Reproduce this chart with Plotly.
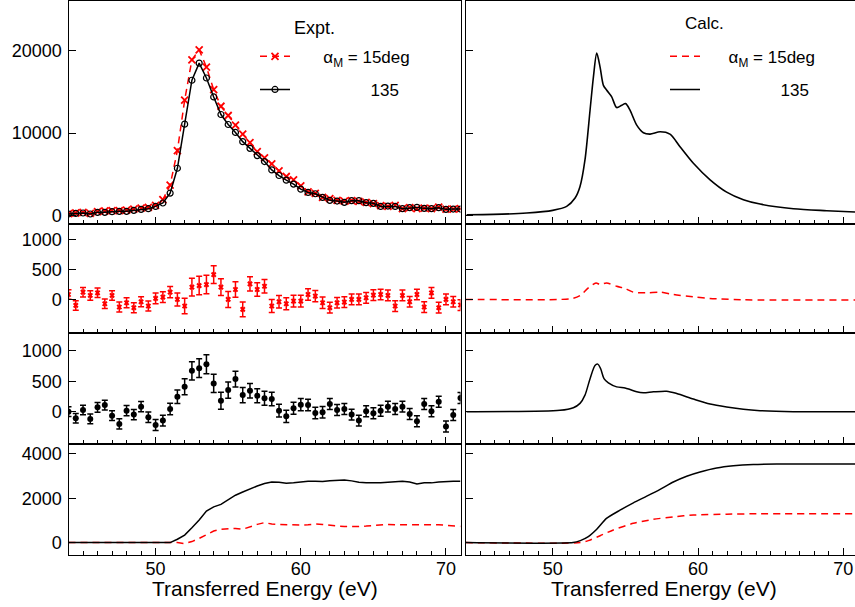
import plotly.graph_objects as go

# ---------------- data ----------------
energy = [44.0, 44.5, 45.0, 45.5, 46.0, 46.5, 47.0, 47.5, 48.0, 48.5, 49.0, 49.5,
          50.0, 50.5, 51.0, 51.5, 52.0, 52.5, 53.0, 53.5, 54.0, 54.5, 55.0, 55.5,
          56.0, 56.5, 57.0, 57.5, 58.0, 58.5, 59.0, 59.5, 60.0, 60.5, 61.0, 61.5,
          62.0, 62.5, 63.0, 63.5, 64.0, 64.5, 65.0, 65.5, 66.0, 66.5, 67.0, 67.5,
          68.0, 68.5, 69.0, 69.5, 70.0, 70.5, 71.0]

expt_15 = [240, 320, 400, 280, 480, 560, 600, 600, 680, 800, 920, 1000,
           1250, 1930, 3690, 7870, 13980, 18880, 20080, 17990, 15260, 13250, 12130, 10960,
           9880, 8840, 7750, 6990, 6270, 5420, 4740, 4340, 3610, 2890, 2690, 2210,
           2050, 1850, 1770, 1810, 1730, 1610, 1450, 1200, 1120, 1250, 840, 960,
           840, 920, 840, 1040, 800, 800, 840]

expt_135 = [200, 280, 320, 200, 400, 400, 480, 520, 520, 640, 760, 840,
            1120, 1530, 2730, 5740, 11080, 16400, 18470, 16670, 14380, 12250, 11040, 10080,
            8960, 8150, 7270, 6550, 5540, 4860, 4300, 3820, 3210, 2810, 2650, 2210,
            1850, 1770, 1610, 1810, 1810, 1570, 1490, 1120, 1160, 1120, 840, 960,
            1000, 880, 840, 960, 760, 800, 800]

diff_15 = [83, -100, 122, 67, 111, -72, 67, -128, -56, -139, -39, -111,
           17, 39, 122, 0, -111, 206, 233, 250, 417, 206, 0, 167,
           -167, 261, 167, 222, -111, -39, -72, -28, -28, 83, 56, -56,
           -139, -56, -44, 0, 0, 28, 72, 83, 67, -111, 67, -39,
           83, -128, 111, -139, 0, -39, -94]

err_15 = [80, 80, 80, 80, 80, 80, 80, 85, 85, 85, 85, 85,
          90, 90, 95, 110, 130, 150, 155, 155, 150, 140, 135, 130,
          125, 120, 115, 115, 110, 105, 100, 100, 100, 95, 95, 95,
          90, 90, 90, 90, 90, 90, 90, 90, 90, 90, 90, 90,
          90, 90, 90, 90, 90, 90, 90]

diff_135 = [0, -109, 27, -120, 71, 109, -66, -202, 16, -49, 82, -93,
            -219, -148, 44, 246, 410, 672, 716, 781, 464, 180, 355, 536,
            273, 344, 262, 219, 208, 16, -77, 55, 115, 109, -22, -11,
            126, 27, 44, -49, -148, 5, -27, 16, 82, 44, 82, -38,
            -158, 126, 5, 164, -246, -55, 224]

err_135 = [80, 80, 80, 80, 80, 80, 80, 85, 85, 85, 85, 85,
           90, 90, 95, 110, 130, 150, 155, 155, 150, 140, 135, 130,
           125, 120, 115, 115, 110, 105, 100, 100, 100, 95, 95, 95,
           90, 90, 90, 90, 90, 90, 90, 90, 90, 90, 90, 90,
           90, 90, 90, 90, 90, 90, 90]

cum_135 = [0, 0, 0, 0, 0, 0, 0, 0, 0, 0, 0, 0,
           0, 0, 0, 150, 340, 670, 1015, 1420, 1610, 1720, 1910, 2135,
           2280, 2430, 2550, 2660, 2730, 2720, 2670, 2690, 2730, 2760, 2760, 2750,
           2790, 2810, 2820, 2780, 2720, 2700, 2690, 2690, 2720, 2730, 2760, 2730,
           2640, 2690, 2690, 2730, 2760, 2760, 2760]

cum_15 = [0, 0, 0, 0, 0, 0, 0, 0, 0, 0, 0, 0,
          0, 0, 0, 0, -45, 45, 190, 370, 520, 600, 610, 640,
          600, 715, 820, 900, 835, 820, 805, 790, 790, 805, 835, 820,
          775, 745, 730, 715, 730, 745, 775, 805, 820, 805, 805, 805,
          820, 820, 835, 805, 775, 760, 730]

calc_x = [44.08, 45.92, 48.21, 50.0, 50.96, 51.54, 51.88, 52.22, 52.57, 52.8,
          53.03, 53.26, 53.49, 53.72, 54.06, 54.40, 54.75, 55.02, 55.32, 55.78,
          56.24, 56.70, 57.39, 58.07, 58.76, 59.68, 60.83, 61.97, 63.12, 64.27,
          66.56, 68.85, 70.80]
calc_135 = [100, 150, 320, 640, 1120, 2130, 3530, 6750, 12770, 16790,
            19680, 17990, 15780, 15180, 14380, 13090, 13370, 13570, 12770, 10960,
            10040, 9880, 10160, 9880, 8350, 6345, 4340, 2850, 1930, 1400,
            840, 600, 440]

calc_diff15_x = [44.0, 50.5, 51.4, 51.9, 52.45, 52.98, 53.26, 53.7, 54.4, 55.0,
                 55.55, 56.47, 57.4, 58.3, 59.68, 60.8, 63.1, 70.8]
calc_diff15 = [0, 0, 17, 67, 194, 278, 250, 278, 222, 183,
               122, 111, 122, 83, 44, 17, -5, -11]

calc_diff135_x = [44.08, 50.5, 51.42, 51.88, 52.22, 52.57, 52.91, 53.1, 53.3, 53.53,
                  53.83, 54.4, 54.98, 55.32, 55.78, 56.24, 56.93, 57.84, 58.53, 59.68,
                  60.83, 61.97, 63.12, 64.27, 66.56, 70.8]
calc_diff135 = [0, 22, 65, 136, 272, 543, 761, 783, 707, 543,
                473, 408, 391, 364, 326, 310, 326, 337, 299, 207,
                125, 76, 38, 16, 0, 0]

calc_cum135_x = [44.0, 51.4, 51.9, 52.45, 53.03, 53.7, 54.63, 55.55, 56.47, 57.39,
                 58.3, 59.22, 60.14, 61.28, 62.43, 63.8, 65.41, 70.8]
calc_cum135 = [0, 0, 90, 270, 600, 1090, 1460, 1790, 2090, 2400,
               2730, 2990, 3180, 3360, 3460, 3520, 3540, 3540]

calc_cum15_x = [44.0, 51.9, 52.45, 53.26, 54.17, 55.55, 56.9, 58.3, 59.68, 61.97, 64.27, 70.8]
calc_cum15 = [0, 0, 90, 310, 570, 870, 1045, 1160, 1240, 1280, 1300, 1300]

row_ranges = [[-1000, 26000], [-570, 1270], [-530, 1290], [-570, 4450]]
row_ticks = [[0, 10000, 20000], [0, 500, 1000], [0, 500, 1000], [0, 2000, 4000]]

# ---------------- figure ----------------
W, H = 855, 607
F = "Liberation Sans, Arial, sans-serif"
RED = "#ff0000"
BLK = "#000000"
NB = "\u00a0"
DASH = "7px,5px"

fig = go.Figure()

def ax(k):
    return ("x" if k == 1 else f"x{k}"), ("y" if k == 1 else f"y{k}")

# row 1 left
xa, ya = ax(1)
fig.add_trace(go.Scatter(x=energy, y=expt_15, xaxis=xa, yaxis=ya, mode="lines+markers",
                         line=dict(color=RED, width=1.5, dash=DASH),
                         marker=dict(symbol="x-thin", size=7, line=dict(color=RED, width=1.8)),
                         name=NB * 6 + "\u03b1<sub>M</sub> = 15deg", legend="legend", legendgroup="a"))
fig.add_trace(go.Scatter(x=energy, y=expt_135, xaxis=xa, yaxis=ya, mode="lines+markers",
                         line=dict(color=BLK, width=1.5),
                         marker=dict(symbol="circle-open", size=6, color=BLK, line=dict(width=1.2)),
                         name=NB * 16 + "135", legend="legend", legendgroup="b"))
# row 1 right (the 15 deg calculation is only listed in the legend here)
xa, ya = ax(2)
fig.add_trace(go.Scatter(x=[None], y=[None], xaxis=xa, yaxis=ya, mode="lines",
                         line=dict(color=RED, width=1.5, dash=DASH),
                         name=NB * 5 + "\u03b1<sub>M</sub> = 15deg", legend="legend2", legendgroup="c"))
fig.add_trace(go.Scatter(x=calc_x, y=calc_135, xaxis=xa, yaxis=ya, mode="lines",
                         line=dict(color=BLK, width=1.6, shape="spline", smoothing=0.8),
                         name=NB * 16 + "135", legend="legend2", legendgroup="d"))
# row 2
xa, ya = ax(3)
fig.add_trace(go.Scatter(x=energy, y=diff_15, xaxis=xa, yaxis=ya, mode="markers",
                         marker=dict(symbol="x", size=5, color=RED),
                         error_y=dict(type="data", array=err_15, color=RED, thickness=1.5, width=3),
                         showlegend=False))
xa, ya = ax(4)
fig.add_trace(go.Scatter(x=calc_diff15_x, y=calc_diff15, xaxis=xa, yaxis=ya, mode="lines",
                         line=dict(color=RED, width=1.5, dash=DASH, shape="spline", smoothing=0.8),
                         showlegend=False))
# row 3
xa, ya = ax(5)
fig.add_trace(go.Scatter(x=energy, y=diff_135, xaxis=xa, yaxis=ya, mode="markers",
                         marker=dict(symbol="circle", size=6, color=BLK),
                         error_y=dict(type="data", array=err_135, color=BLK, thickness=1.5, width=3),
                         showlegend=False))
xa, ya = ax(6)
fig.add_trace(go.Scatter(x=calc_diff135_x, y=calc_diff135, xaxis=xa, yaxis=ya, mode="lines",
                         line=dict(color=BLK, width=1.5, shape="spline", smoothing=0.8),
                         showlegend=False))
# row 4
xa, ya = ax(7)
fig.add_trace(go.Scatter(x=energy, y=cum_15, xaxis=xa, yaxis=ya, mode="lines",
                         line=dict(color=RED, width=1.5, dash=DASH), showlegend=False))
fig.add_trace(go.Scatter(x=energy, y=cum_135, xaxis=xa, yaxis=ya, mode="lines",
                         line=dict(color=BLK, width=1.5), showlegend=False))
xa, ya = ax(8)
fig.add_trace(go.Scatter(x=calc_cum15_x, y=calc_cum15, xaxis=xa, yaxis=ya, mode="lines",
                         line=dict(color=RED, width=1.5, dash=DASH, shape="spline", smoothing=0.6),
                         showlegend=False))
fig.add_trace(go.Scatter(x=calc_cum135_x, y=calc_cum135, xaxis=xa, yaxis=ya, mode="lines",
                         line=dict(color=BLK, width=1.5, shape="spline", smoothing=0.6),
                         showlegend=False))

# axes layout
col_dom = [[68.5 / W, 460.5 / W], [465.5 / W, 1.0]]
col_rng = [[44, 71], [44, 70.8]]
row_px = [(0, 224), (224, 334), (334, 445), (445, 557)]
row_dom = [[1 - b / H, 1 - t / H] for (t, b) in row_px]

layout = {}
for r in range(4):
    for c in range(2):
        k = r * 2 + c + 1
        xs = "xaxis" if k == 1 else f"xaxis{k}"
        ys = "yaxis" if k == 1 else f"yaxis{k}"
        yname = "y" if k == 1 else f"y{k}"
        xname = "x" if k == 1 else f"x{k}"
        layout[xs] = dict(
            domain=col_dom[c], range=col_rng[c], anchor=yname,
            showline=True, linecolor=BLK, linewidth=1.1, mirror=True,
            ticks="inside", ticklen=7, tickwidth=1, tickcolor=BLK,
            tick0=0, dtick=10,
            minor=dict(ticks="inside", ticklen=4, dtick=1, tickcolor=BLK, tickwidth=1),
            showgrid=False, zeroline=False,
            showticklabels=(r == 3), ticklabelstandoff=-3,
            tickfont=dict(family=F, size=18, color=BLK),
        )
        layout[ys] = dict(
            domain=row_dom[r], range=row_ranges[r], anchor=xname,
            showline=True, linecolor=BLK, linewidth=1.1, mirror=(c == 0),
            ticks="inside", ticklen=7, tickwidth=1, tickcolor=BLK,
            tickvals=row_ticks[r], tickformat="d", showgrid=False, zeroline=False,
            showticklabels=(c == 0), ticklabelstandoff=2,
            tickfont=dict(family=F, size=18, color=BLK),
        )

fig.update_layout(**layout)

annots = [
    dict(text="Expt.", x=314 / W, y=1 - 27 / H, font=dict(family=F, size=18, color=BLK)),
    dict(text="Calc.", x=704 / W, y=1 - 23 / H, font=dict(family=F, size=17, color=BLK)),
    dict(text="Transferred Energy (eV)", x=sum(col_dom[0]) / 2, y=1 - 590 / H,
         font=dict(family=F, size=21, color=BLK)),
    dict(text="Transferred Energy (eV)", x=(465.5 / W + 855 / W) / 2 + 4 / W, y=1 - 590 / H,
         font=dict(family=F, size=21, color=BLK)),
]
for a in annots:
    a.update(xref="paper", yref="paper", xanchor="center", yanchor="middle", showarrow=False)

fig.update_layout(
    width=W, height=H,
    margin=dict(l=0, r=0, t=0, b=0),
    paper_bgcolor="white", plot_bgcolor="white",
    font=dict(family=F, color=BLK),
    annotations=annots,
    legend=dict(x=255 / W, y=1 - 38 / H, xanchor="left", yanchor="top",
                bgcolor="rgba(0,0,0,0)", itemwidth=30, tracegroupgap=8,
                font=dict(family=F, size=17, color=BLK)),
    legend2=dict(x=665 / W, y=1 - 38 / H, xanchor="left", yanchor="top",
                 bgcolor="rgba(0,0,0,0)", itemwidth=30, tracegroupgap=8,
                 font=dict(family=F, size=17, color=BLK)),
)

fig.write_html("out.html")
